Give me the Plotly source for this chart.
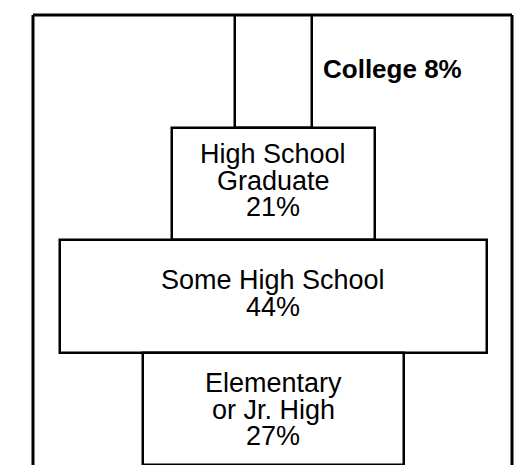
import plotly.graph_objects as go

# Data
categories = ["College", "High School Graduate", "Some High School", "Elementary or Jr. High"]
values = [8, 21, 44, 27]
label_lines = [
    ["College"],
    ["High School", "Graduate"],
    ["Some High School"],
    ["Elementary", "or Jr. High"],
]

FONT = "Liberation Sans, Arial, Helvetica, sans-serif"
LINE_PX = 26.5
# small vertical nudges (px) of the in-bar labels
nudges = [0, 3, 3, -1]

fig = go.Figure()
fig.add_trace(go.Bar(
    y=categories,
    x=values,
    base=[-v / 2 for v in values],
    orientation="h",
    marker=dict(color="white", line=dict(color="black", width=2.5)),
    width=1.0,
    hoverinfo="skip",
))

annotations = []
# College label sits to the right of its bar
annotations.append(dict(
    x=values[0] / 2, y=categories[0], xref="x", yref="y",
    text=f"<b>{label_lines[0][0]} {values[0]}%</b>",
    showarrow=False, xanchor="left", yanchor="middle", xshift=9, yshift=2,
    font=dict(family=FONT, size=26, color="black"),
))
# Other labels are centred inside their bars, one annotation per line
for cat, val, lines, nudge in zip(categories[1:], values[1:], label_lines[1:], nudges[1:]):
    all_lines = lines + [f"{val}%"]
    n = len(all_lines)
    for i, line in enumerate(all_lines):
        offset = (i - (n - 1) / 2) * LINE_PX
        annotations.append(dict(
            x=0, y=cat, xref="x", yref="y", text=line,
            showarrow=False, xanchor="center", yanchor="middle",
            yshift=-offset + nudge,
            font=dict(family=FONT, size=27, color="black"),
        ))

shapes = [
    dict(type="line", xref="paper", yref="paper", x0=0, x1=0, y0=0, y1=1.0,
         line=dict(color="black", width=3)),
    dict(type="line", xref="paper", yref="paper", x0=1, x1=1, y0=0, y1=1.0,
         line=dict(color="black", width=3)),
    dict(type="line", xref="paper", yref="paper", x0=0, x1=1, y0=1, y1=1,
         line=dict(color="black", width=3)),
]

fig.update_layout(
    width=514, height=465,
    margin=dict(l=33, r=2, t=15, b=0),
    paper_bgcolor="white", plot_bgcolor="white",
    showlegend=False,
    bargap=0,
    xaxis=dict(range=[-24.8, 24.6], visible=False, fixedrange=True),
    yaxis=dict(categoryorder="array", categoryarray=categories,
               range=[3.5, -0.5], visible=False, fixedrange=True),
    annotations=annotations,
    shapes=shapes,
)

# remove the default 8px page margin so the figure fills the window exactly
fig.write_html(
    "out.html",
    config={"displayModeBar": False},
    post_script="document.body.style.margin='0';document.body.style.overflow='hidden';",
)
